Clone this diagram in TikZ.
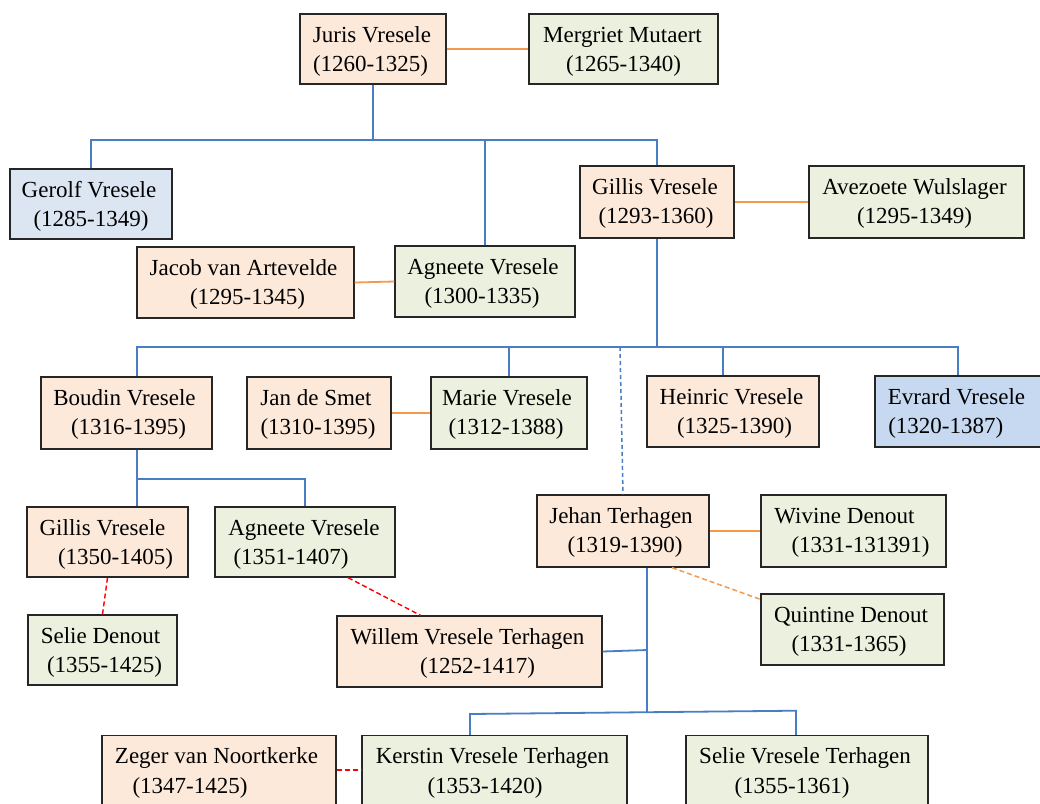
\documentclass[tikz,border=0pt]{standalone}
\usepackage{fontspec}
\setmainfont{Liberation Serif}
\usetikzlibrary{fit,calc}
\definecolor{peach}{HTML}{FDE9D9}
\definecolor{paleolive}{HTML}{EBF1DE}
\definecolor{paleblue}{HTML}{DCE6F2}
\definecolor{midblue}{HTML}{C6D9F1}
\definecolor{linkblue}{HTML}{4A7EC4}
\definecolor{linkorange}{HTML}{F39A4E}
\definecolor{boxline}{HTML}{262626}
\tikzset{
  pbox/.style={draw=boxline, line width=1.3pt, inner sep=0pt, rectangle},
  ptxt/.style={anchor=base, inner sep=0pt, font=\fontsize{23}{28}\selectfont},
  kinline/.style={draw=linkblue, line width=1.8pt},
  kindash/.style={kinline, line width=1.5pt, dash pattern=on 4pt off 3pt},
  wedline/.style={draw=linkorange, line width=1.8pt},
  weddash/.style={wedline, line width=1.5pt, dash pattern=on 5pt off 3pt},
  redline/.style={draw=red, line width=1.4pt, dash pattern=on 5pt off 3pt},
}
\newcommand\pbx[6]{\node[pbox, fill=#2, fit={(#3,#4) (#5,#6)}] (#1) {};}
\newcommand\ptx[5]{%
  \node[ptxt] (#1-a) at ($(#1.north)+(#2,29)$) {#3};
  \node[ptxt] (#1-b) at ($(#1.north)+(#4,58.3)$) {#5};}
\begin{document}
\begin{tikzpicture}[x=1pt,y=-1pt]
\fill[white] (0,0) rectangle (1040,803);
\useasboundingbox (0,0) rectangle (1040,803);

% boxes
\pbx{juris}{peach}{300}{14}{446}{84}
\pbx{mergriet}{paleolive}{529}{14}{718}{84}
\pbx{gerolf}{paleblue}{10}{169}{172}{239}
\pbx{gillis1}{peach}{580}{166}{734}{238}
\pbx{avezoete}{paleolive}{809}{166}{1024}{238}
\pbx{jacob}{peach}{137}{247}{354}{318}
\pbx{agneete1}{paleolive}{395}{246}{575}{317}
\pbx{boudin}{peach}{41}{377}{212}{449}
\pbx{jan}{peach}{247}{377}{391}{449}
\pbx{marie}{paleolive}{431}{377}{587}{449}
\pbx{heinric}{peach}{647}{376}{819}{447}
\pbx{evrard}{midblue}{875}{376}{1050}{447}
\pbx{gillis2}{peach}{27}{507}{188}{577}
\pbx{agneete2}{paleolive}{215}{507}{395}{577}
\pbx{jehan}{peach}{537}{495}{709}{567}
\pbx{wivine}{paleolive}{761}{495}{946}{567}
\pbx{quintine}{paleolive}{761}{594}{944}{665}
\pbx{selied}{paleolive}{28}{615}{177}{685}
\pbx{willem}{peach}{337}{616}{602}{687}
\pbx{zeger}{peach}{102}{735.5}{336}{806.5}
\pbx{kerstin}{paleolive}{362}{735.5}{627}{806.5}
\pbx{selievt}{paleolive}{686}{735.5}{928}{806.5}

% texts
\ptx{juris}{-1}{Juris Vresele}{-2.5}{(1260-1325)}
\ptx{mergriet}{-1}{Mergriet Mutaert}{0}{(1265-1340)}
\ptx{gerolf}{-2}{Gerolf Vresele}{0}{(1285-1349)}
\ptx{gillis1}{-2}{Gillis Vresele}{-1}{(1293-1360)}
\ptx{avezoete}{-2}{Avezoete Wulslager}{-2}{(1295-1349)}
\ptx{jacob}{-2}{Jacob van Artevelde}{2}{(1295-1345)}
\ptx{agneete1}{-2}{Agneete Vresele}{-3}{(1300-1335)}
\ptx{boudin}{-2}{Boudin Vresele}{2}{(1316-1395)}
\ptx{jan}{-3}{Jan de Smet}{-1}{(1310-1395)}
\ptx{marie}{-2}{Marie Vresele}{-3}{(1312-1388)}
\ptx{heinric}{-1.5}{Heinric Vresele}{1.5}{(1325-1390)}
\ptx{evrard}{-6}{Evrard Vresele}{-16.7}{(1320-1387)}
\ptx{gillis2}{-5}{Gillis Vresele}{8}{(1350-1405)}
\ptx{agneete2}{-1}{Agneete Vresele}{-14}{(1351-1407)}
\ptx{jehan}{-2}{Jehan Terhagen}{2}{(1319-1390)}
\ptx{wivine}{-9}{Wivine Denout}{7}{(1331-131391)}
\ptx{quintine}{-1.5}{Quintine Denout}{-3.5}{(1331-1365)}
\ptx{selied}{-2}{Selie Denout}{2}{(1355-1425)}
\ptx{willem}{-2}{Willem Vresele Terhagen}{8}{(1252-1417)}
\ptx{zeger}{-2.5}{Zeger van Noortkerke}{-29}{(1347-1425)}
\ptx{kerstin}{-2}{Kerstin Vresele Terhagen}{-9.5}{(1353-1420)}
\ptx{selievt}{-2}{Selie Vresele Terhagen}{-15}{(1355-1361)}

% helper coordinates
\coordinate (busA) at (0,140);
\coordinate (busB) at (0,347);
\coordinate (busC) at (0,479);
\coordinate (xBoudin) at (137,0);
\coordinate (xHeinric) at (723,0);
\coordinate (xEvrard) at (958,0);
\coordinate (xJehan) at (647,0);
\coordinate (jehanTop) at (620,347);
\coordinate (jehanEnd) at (647,713);
\coordinate (willemJoin) at (647,650);
\coordinate (kidsL) at (470,714);
\coordinate (kidsR) at (796,710.7);

% connectors
\draw[wedline] (juris.east) -- (mergriet.west);
\draw[kinline] (juris.south) -- (juris.south |- busA);
\draw[kinline] (gerolf.north) -- (gerolf.north |- busA) -- (gillis1.north |- busA) -- (gillis1.north);
\draw[kinline] (agneete1.north) -- (agneete1.north |- busA);
\draw[wedline] (gillis1.east) -- (avezoete.west);
\draw[wedline] (jacob.east) -- (agneete1.west);
\draw[kinline] (gillis1.south) -- (gillis1.south |- busB);
\draw[kinline] (boudin.north -| xBoudin) -- (xBoudin |- busB) -- (xEvrard |- busB) -- (evrard.north -| xEvrard);
\draw[kinline] (marie.north) -- (marie.north |- busB);
\draw[kinline] (heinric.north -| xHeinric) -- (xHeinric |- busB);
\draw[kindash] (jehanTop) -- (jehan.north);
\draw[wedline] (jan.east) -- (marie.west);
\draw[kinline] (boudin.south -| xBoudin) -- (gillis2.north -| xBoudin);
\draw[kinline] (xBoudin |- busC) -| (agneete2.north);
\draw[redline] (gillis2.south) -- (selied.north);
\draw[redline] ($(agneete2.south)+(43,0)$) -- ($(willem.north)+(-49,0)$);
\draw[wedline] (jehan.east) -- (wivine.west);
\draw[weddash] ($(jehan.south)+(49,0)$) -- ($(quintine.north west)+(0,6)$);
\draw[kinline] (jehan.south -| xJehan) -- (jehanEnd);
\draw[kinline] (willem.east) -- (willemJoin);
\draw[kinline] (kidsL |- kerstin.north) -- (kidsL) -- (kidsR) -- (kidsR |- selievt.north);
\draw[redline] ($(zeger.north east)+(0,35)$) -- ($(kerstin.north west)+(0,35)$);
\end{tikzpicture}
\end{document}
